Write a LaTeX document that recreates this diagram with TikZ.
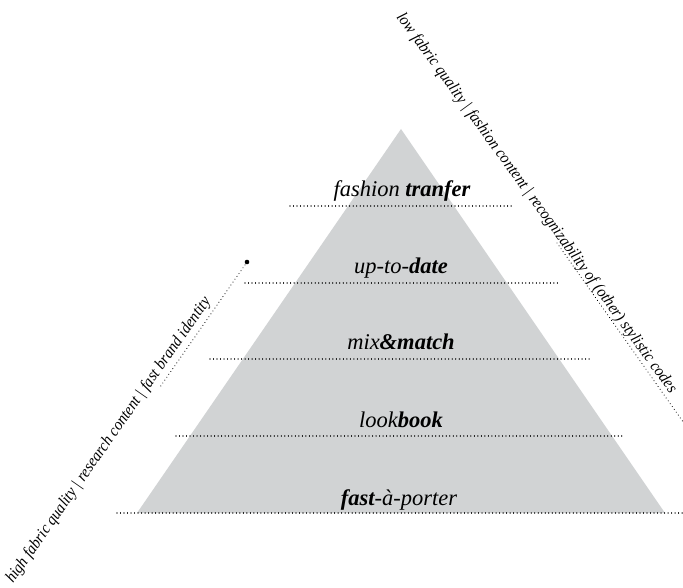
\documentclass[tikz,border=0pt]{standalone}
\usepackage{fontspec}
\setmainfont{Liberation Serif}
\definecolor{pyramidgrey}{RGB}{209,211,212}
\begin{document}
\begin{tikzpicture}[x=1pt,y=-1pt,
  rule/.style={line width=1.15pt, dash pattern=on 0.01pt off 3.5pt, line cap=round},
  tier/.style={anchor=base, inner sep=0pt, font=\fontsize{22.5}{22.5}\selectfont\itshape},
  slant/.style={anchor=base west, inner sep=0pt, font=\fontsize{14}{14}\selectfont\itshape}]
\useasboundingbox (0,0) rectangle (683,588);

% the pyramid
\fill[pyramidgrey] (137,513) -- (401,129) -- (665,513) -- cycle;

% tier rulings
\coordinate (r1a) at (290,206); \coordinate (r1b) at (512,206);
\coordinate (r2a) at (245,283); \coordinate (r2b) at (558,283);
\coordinate (r3a) at (210,359); \coordinate (r3b) at (592,359);
\coordinate (r4a) at (176,436); \coordinate (r4b) at (625,436);
\coordinate (r5a) at (117,513); \coordinate (r5b) at (683,513);
\foreach \r in {1,...,5} \draw[rule] (r\r a) -- (r\r b);

% tier labels
\node[tier] (t1) at (402,197) {fashion \textbf{tranfer}};
\node[tier] (t2) at (401,274) {up-to-\textbf{date}};
\node[tier] (t3) at (401,349) {mix\textbf{\&match}};
\node[tier] (t4) at (401,427) {look\textbf{book}};
\node[tier] (t5) at (399,505) {\textbf{fast}-à-porter};

% left axis
\coordinate (lstart) at (247,262);
\coordinate (lend) at (160,387);
\draw[rule] (lstart) -- (lend);
\fill (lstart) circle (2.3);
\node[slant, rotate=55] (ltext) at (13,584)
  {\resizebox{345pt}{11.5pt}{high fabric quality | research content | fast brand identity}};

% right axis
\coordinate (rstart) at (557,243);
\coordinate (rend) at (686,426);
\draw[rule] (rstart) -- (rend);
\node[slant, rotate=-54] (rtext) at (396,17)
  {\resizebox{466pt}{11.5pt}{low fabric quality | fashion content | recognizability of (other) stylistic codes}};
\end{tikzpicture}
\end{document}
